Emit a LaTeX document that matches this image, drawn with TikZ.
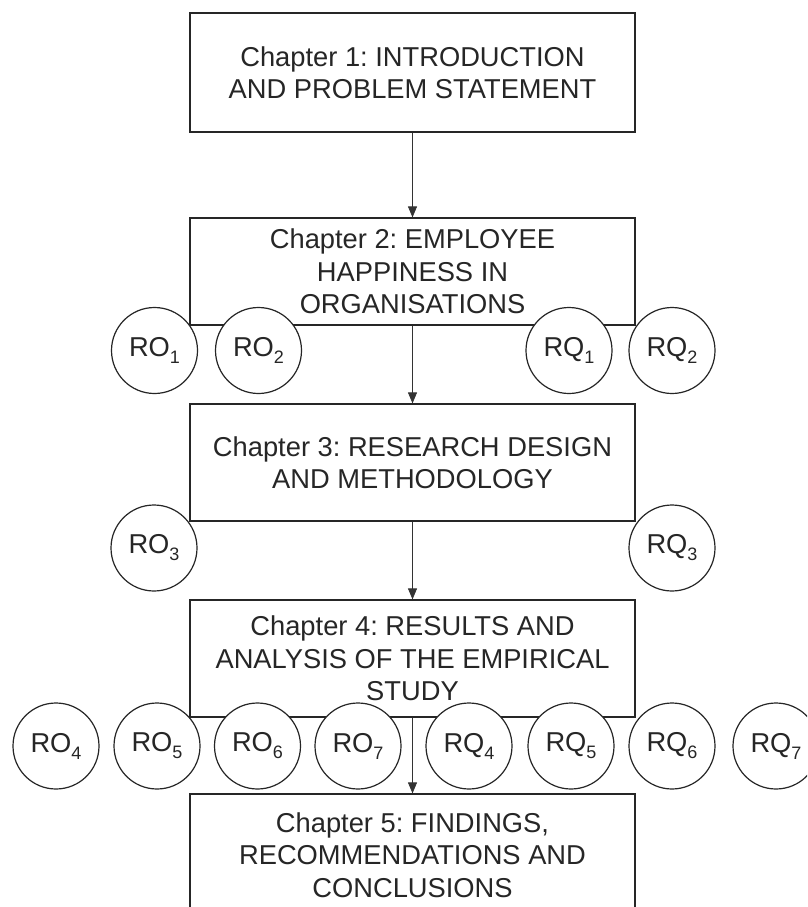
\documentclass[tikz,border=0pt]{standalone}
\usepackage{fontspec}
\setmainfont{Liberation Sans}
\usetikzlibrary{arrows.meta}
\newcommand\rqsub[1]{\raisebox{-7pt}{\fontsize{18}{18}\selectfont #1}}
\frenchspacing
\begin{document}
\begin{tikzpicture}[x=1pt,y=-1pt,
  chap/.style={draw=black!85, line width=1.2pt, fill=white, minimum width=445pt, inner sep=0pt, align=center, font=\fontsize{27.3}{32.5}\selectfont, text=black!85},
  roq/.style={circle, draw=black!85, line width=1.2pt, fill=white, minimum size=86pt, inner sep=0pt, font=\fontsize{27.3}{32}\selectfont, text=black!85},
  flow/.style={line width=0.9pt, draw=black!80, -{Triangle[length=11pt,width=9pt]}}]
\clip (0,0) rectangle (807,907);
\fill[white] (0,0) rectangle (807,907);
% chapter boxes
\node[chap, minimum height=119pt] (c1) at (412.5,72.5) {Chapter 1: INTRODUCTION\\AND PROBLEM STATEMENT};
\node[chap, minimum height=107pt] (c2) at (412.5,271.5) {Chapter 2: EMPLOYEE\\HAPPINESS IN\\ORGANISATIONS};
\node[chap, minimum height=117pt] (c3) at (412.5,462.5) {Chapter 3: RESEARCH DESIGN\\AND METHODOLOGY};
\node[chap, minimum height=117pt] (c4) at (412.5,658.5) {Chapter 4: RESULTS AND\\ANALYSIS OF THE EMPIRICAL\\STUDY};
\node[chap, minimum height=122pt] (c5) at (412.5,855) {Chapter 5: FINDINGS,\\RECOMMENDATIONS AND\\CONCLUSIONS};
% arrows
\draw[flow] (c1) -- (c2);
\draw[flow] (c2) -- (c3);
\draw[flow] (c3) -- (c4);
\draw[flow] (c4) -- (c5);
% row 1
\node[roq] (ro1) at (154.5,350.5) {RO\rqsub{1}};
\node[roq] (ro2) at (258.5,350.5) {RO\rqsub{2}};
\node[roq] (rq1) at (569,350.5) {RQ\rqsub{1}};
\node[roq] (rq2) at (672,350.5) {RQ\rqsub{2}};
% row 2
\node[roq] (ro3) at (154,548) {RO\rqsub{3}};
\node[roq] (rq3) at (672,548) {RQ\rqsub{3}};
% row 3
\node[roq] (ro4) at (56,746) {RO\rqsub{4}};
\node[roq] (ro5) at (157,746) {RO\rqsub{5}};
\node[roq] (ro6) at (257.5,746) {RO\rqsub{6}};
\node[roq] (ro7) at (358,746) {RO\rqsub{7}};
\node[roq] (rq4) at (469,746) {RQ\rqsub{4}};
\node[roq] (rq5) at (571,746) {RQ\rqsub{5}};
\node[roq] (rq6) at (672,746) {RQ\rqsub{6}};
\node[roq] (rq7) at (776,746) {RQ\rqsub{7}};
\end{tikzpicture}
\end{document}
